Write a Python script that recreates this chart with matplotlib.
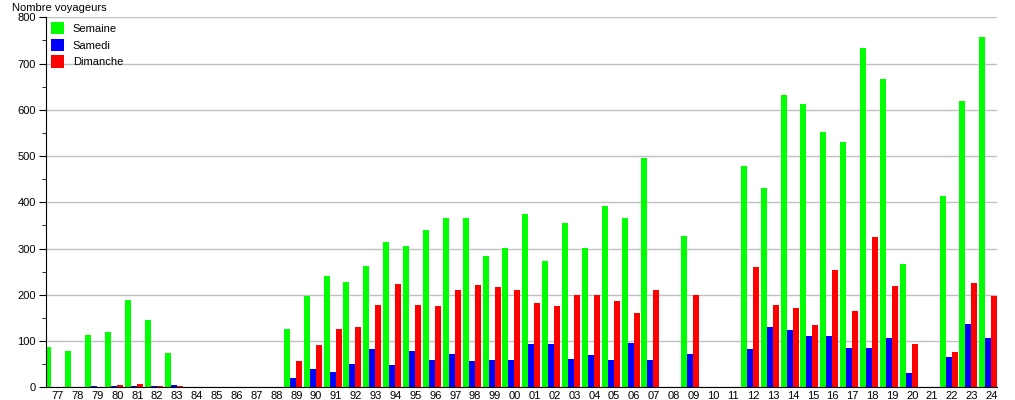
import numpy as np
import matplotlib.pyplot as plt
from matplotlib.ticker import MultipleLocator

plt.rcParams["font.family"] = ["Liberation Sans", "DejaVu Sans"]

########## DATA ########
years = ["77", "78", "79", "80", "81", "82", "83", "84", "85", "86", "87", "88",
         "89", "90", "91", "92", "93", "94", "95", "96", "97", "98", "99", "00",
         "01", "02", "03", "04", "05", "06", "07", "08", "09", "10", "11", "12",
         "13", "14", "15", "16", "17", "18", "19", "20", "21", "22", "23", "24"]

semaine = [88, 79, 114, 120, 188, 146, 75, 0, 0, 0, 0, 0,
           125, 198, 241, 228, 263, 315, 306, 341, 367, 367, 284, 302,
           375, 274, 356, 302, 391, 367, 495, 0, 328, 0, 0, 479,
           432, 633, 613, 553, 531, 734, 667, 266, 0, 413, 618, 758]

samedi = [0, 0, 3, 3, 3, 3, 5, 0, 0, 0, 0, 0,
          20, 40, 33, 50, 83, 48, 79, 59, 72, 57, 59, 59,
          94, 94, 61, 70, 59, 96, 59, 0, 73, 0, 0, 82,
          130, 123, 110, 110, 86, 86, 106, 30, 0, 65, 136, 106]

dimanche = [0, 0, 0, 5, 7, 3, 3, 0, 0, 0, 0, 0,
            57, 92, 127, 131, 178, 224, 178, 176, 211, 222, 217, 211,
            183, 176, 199, 199, 187, 161, 211, 0, 199, 0, 0, 261,
            177, 171, 134, 253, 166, 324, 218, 93, 0, 76, 225, 197]
###### END DATA ########

x = np.arange(len(years))
w = 0.302

fig = plt.figure(figsize=(10.15, 4.0), dpi=100)
ax = fig.add_axes([45.5 / 1015, 12.7 / 400, (997 - 45.5) / 1015, 370 / 400])

ax.bar(x - w, semaine, width=w, color="#00ff00", label="Semaine", zorder=2)
ax.bar(x, samedi, width=w, color="#0000ff", label="Samedi", zorder=2)
ax.bar(x + w, dimanche, width=w, color="#ff0000", label="Dimanche", zorder=2)

ax.set_xlim(-0.45, 47.44)
ax.set_ylim(0, 800)
ax.set_xticks(x + 0.17)
ax.set_xticklabels(years, fontsize=8)
ax.tick_params(axis="x", length=0, pad=3)

ax.yaxis.set_major_locator(MultipleLocator(100))
ax.yaxis.set_minor_locator(MultipleLocator(50))
ax.tick_params(axis="y", which="major", length=5, labelsize=8, pad=2)
ax.tick_params(axis="y", which="minor", length=3)
ax.grid(axis="y", color="#c0c0c0", linewidth=1, zorder=0)

for s in ["top", "right"]:
    ax.spines[s].set_visible(False)

fig.text(12 / 1015, 1 - 8 / 400, "Nombre voyageurs", fontsize=8, va="center")

ax.legend(loc="upper left", bbox_to_anchor=(0.0, 1.0), frameon=False,
          fontsize=8, handlelength=1.25, handleheight=1.3, labelspacing=0.4,
          handletextpad=0.75, borderpad=0.1, borderaxespad=0.35)

plt.savefig("out.png", dpi=100)
